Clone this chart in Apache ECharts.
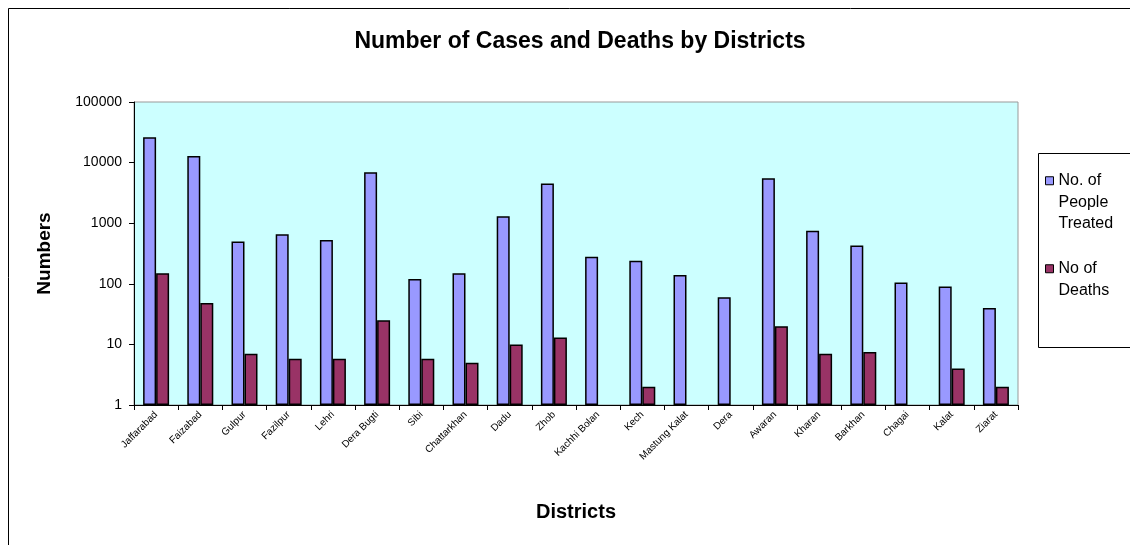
<!DOCTYPE html>
<html><head><meta charset="utf-8">
<script src="https://cdn.jsdelivr.net/npm/echarts@6/dist/echarts.min.js"></script>
<style>html,body{margin:0;padding:0;background:#fff}#c{width:1130px;height:545px}</style>
</head><body><div id="c"></div>
<script>
var districts = ["Jaffarabad","Faizabad","Gulpur","Fazilpur","Lehri","Dera Bugti","Sibi","Chattarkhan","Dadu","Zhob","Kachhi Bolan","Kech","Mastung Kalat","Dera","Awaran","Kharan","Barkhan","Chagai","Kalat","Ziarat"];
var treated = [26300,12900,497,660,530,6900,120,150,1300,4500,280,240,140,60,5500,750,430,105,90,40];
var deaths  = [150,48,7,5.8,5.8,25,5.8,5,10,13,null,2,null,null,20,7,7.5,null,4,2];
var legendNames = ['No. of People Treated','No of Deaths'];
var legendLabels = ['\n\nNo. of\nPeople\nTreated','\nNo of\nDeaths'];

var chart = echarts.init(document.getElementById('c'));
chart.setOption({
  animation:false,
  textStyle:{fontFamily:'Liberation Sans, Arial, sans-serif'},
  title:{text:'Number of Cases and Deaths by Districts',left:575,top:25,textAlign:'center',
    textStyle:{fontSize:23,fontWeight:'bold',color:'#000'}},
  graphic:[
    {type:'rect',shape:{x:8.5,y:8.5,width:1130,height:545},style:{fill:'none',stroke:'#000',lineWidth:1},z:-1},
    {type:'rect',shape:{x:1038.5,y:153.5,width:100,height:194},style:{fill:'#fff',stroke:'#000',lineWidth:1},z:0}
  ],
  legend:{orient:'vertical',left:1045,top:127,padding:0,itemWidth:8,itemHeight:8,itemGap:2,icon:'rect',
    itemStyle:{borderColor:'#000',borderWidth:1},
    formatter:function(n){return legendLabels[legendNames.indexOf(n)];},
    textStyle:{fontSize:16,lineHeight:21.5,color:'#000'},
    data:legendNames, z:5},
  grid:{left:134,top:102,width:884,height:303,show:true,backgroundColor:'#CCFFFF',borderColor:'#999',borderWidth:1},
  xAxis:{type:'category',data:districts,name:'Districts',nameLocation:'middle',nameGap:97,
    nameTextStyle:{fontSize:20,fontWeight:'bold',color:'#000'},
    axisLine:{lineStyle:{color:'#000'}},axisTick:{show:true,length:5,lineStyle:{color:'#000'}},
    axisLabel:{rotate:45,fontSize:10,color:'#000',margin:8,interval:0}},
  yAxis:{type:'log',logBase:10,min:1,max:100000,name:'Numbers',nameLocation:'middle',nameGap:80,
    nameTextStyle:{fontSize:19,fontWeight:'bold',color:'#000'},
    axisLine:{show:true,lineStyle:{color:'#000'}},axisTick:{show:true,length:5,lineStyle:{color:'#000'}},
    splitLine:{show:false},
    axisLabel:{fontSize:14,color:'#000',margin:12,formatter:function(v){return String(Math.round(v));}}},
  series:[
    {name:legendNames[0],type:'bar',data:treated,barWidth:13,barGap:'0%',
      itemStyle:{color:'#9999FF',borderColor:'#000',borderWidth:1.5}},
    {name:legendNames[1],type:'bar',data:deaths,barWidth:13,barGap:'0%',
      itemStyle:{color:'#993366',borderColor:'#000',borderWidth:1.5}}
  ]
});
</script></body></html>
